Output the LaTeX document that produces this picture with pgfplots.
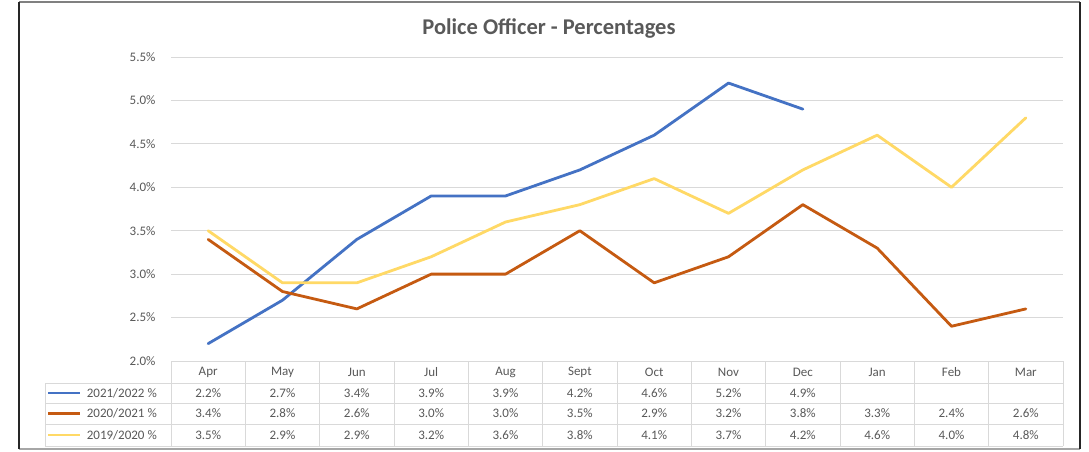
\documentclass[border=0pt]{standalone}
\usepackage{fontspec}
\setmainfont{Carlito}
\usepackage{pgfplots}
\pgfplotsset{compat=1.18}
\definecolor{sblue}{HTML}{4472C4}
\definecolor{sorange}{HTML}{C55A11}
\definecolor{syellow}{HTML}{FFD966}
\definecolor{txt}{HTML}{595959}
\definecolor{gridc}{HTML}{D9D9D9}
\newcommand{\tabfont}{\fontsize{13}{15}\selectfont}
\begin{document}
\begin{tikzpicture}[x=1pt,y=1pt]
\useasboundingbox (0,0) rectangle (1089,451);
\fill[white] (0,0) rectangle (1089,451);
\begin{axis}[at={(171pt,90pt)}, anchor=south west, scale only axis,
  width=892pt, height=304pt,
  xmin=-0.5, xmax=11.5, ymin=2, ymax=5.5,
  ytick={2,2.5,3,3.5,4,4.5,5,5.5}, xtick=\empty,
  ymajorgrids, grid style={gridc, line width=1pt},
  axis line style={draw=none}, major tick length=0pt,
  yticklabel style={font=\tabfont, text=txt},
  yticklabel={\pgfmathprintnumber[fixed,fixed zerofill,precision=1]{\tick}\%},
  /pgf/number format/assume math mode=true,
  yticklabel shift=12pt,
  clip=false]
\addplot[sblue, line width=2.8pt, line join=round, line cap=round] coordinates {
(0,2.2) (1,2.7) (2,3.4) (3,3.9) (4,3.9) (5,4.2) (6,4.6) (7,5.2) (8,4.9)};
\addplot[sorange, line width=2.8pt, line join=round, line cap=round] coordinates {
(0,3.4) (1,2.8) (2,2.6) (3,3.0) (4,3.0) (5,3.5) (6,2.9) (7,3.2) (8,3.8) (9,3.3) (10,2.4) (11,2.6)};
\addplot[syellow, line width=2.8pt, line join=round, line cap=round] coordinates {
(0,3.5) (1,2.9) (2,2.9) (3,3.2) (4,3.6) (5,3.8) (6,4.1) (7,3.7) (8,4.2) (9,4.6) (10,4.0) (11,4.8)};
\end{axis}
% title
\node[font=\bfseries\fontsize{22.5}{26}\selectfont, text=txt] at (549,423) {Police Officer - Percentages};
% data table
\draw[gridc, line width=1pt] (171,90) -- (1063,90);
\foreach \yy in {68,48,27,5} \draw[gridc, line width=1pt] (45,\yy) -- (1063,\yy);
\draw[gridc, line width=1pt] (45,68) -- (45,5);
\foreach \k in {0,...,12} \draw[gridc, line width=1pt] ({171+74.333*\k},90) -- ({171+74.333*\k},5);
\foreach \m [count=\i from 0] in {Apr,May,Jun,Jul,Aug,Sept,Oct,Nov,Dec,Jan,Feb,Mar}
  \node[font=\tabfont, text=txt] at ({171+74.333*(\i+0.5)},79) {\m};
\foreach \v [count=\i from 0] in {2.2,2.7,3.4,3.9,3.9,4.2,4.6,5.2,4.9}
  \node[font=\tabfont, text=txt] at ({171+74.333*(\i+0.5)},58) {\v\%};
\foreach \v [count=\i from 0] in {3.4,2.8,2.6,3.0,3.0,3.5,2.9,3.2,3.8,3.3,2.4,2.6}
  \node[font=\tabfont, text=txt] at ({171+74.333*(\i+0.5)},37.5) {\v\%};
\foreach \v [count=\i from 0] in {3.5,2.9,2.9,3.2,3.6,3.8,4.1,3.7,4.2,4.6,4.0,4.8}
  \node[font=\tabfont, text=txt] at ({171+74.333*(\i+0.5)},16) {\v\%};
% legend keys
\draw[sblue, line width=2.8pt] (48,58) -- (80,58);
\draw[sorange, line width=2.8pt] (48,37.5) -- (80,37.5);
\draw[syellow, line width=2.8pt] (48,16) -- (80,16);
\node[font=\tabfont, text=txt, anchor=east, inner sep=0pt] at (157,58) {2021/2022 \%};
\node[font=\tabfont, text=txt, anchor=east, inner sep=0pt] at (157,37.5) {2020/2021 \%};
\node[font=\tabfont, text=txt, anchor=east, inner sep=0pt] at (157,16) {2019/2020 \%};
% outer frame
\draw[gray, line width=1.2pt] (19,449) -- (1080,449);
\draw[gray!70, line width=1.2pt] (19,2) -- (1080,2);
\draw[black!85, line width=2pt] (19,2) -- (19,449);
\draw[black!85, line width=2pt] (1080,2) -- (1080,449);
\end{tikzpicture}
\end{document}
